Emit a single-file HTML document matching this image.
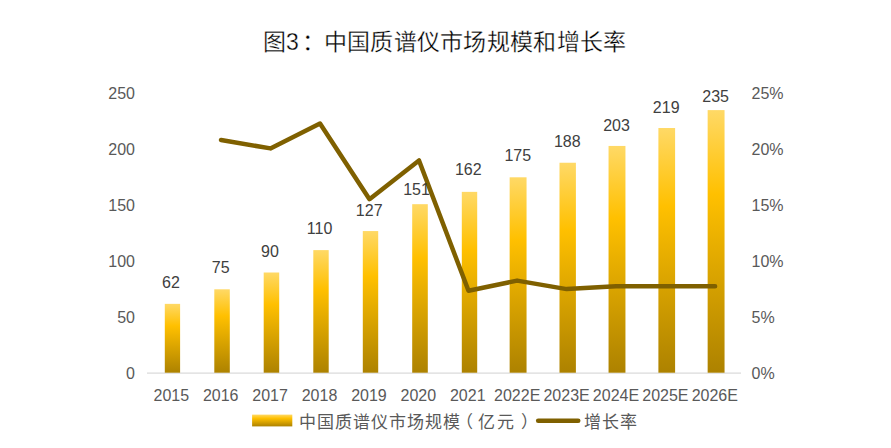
<!DOCTYPE html>
<html lang="zh-CN"><head><meta charset="utf-8"><style>
html,body{margin:0;padding:0;background:#fff;}
body{width:891px;height:448px;overflow:hidden;font-family:"Liberation Sans",sans-serif;}
svg{display:block;}
</style></head><body>
<svg width="891" height="448" viewBox="0 0 891 448" font-family="Liberation Sans, sans-serif">
<defs>
<linearGradient id="bg" x1="0" y1="0" x2="0" y2="1">
<stop offset="0" stop-color="#FFD966"/>
<stop offset="0.32" stop-color="#FFC000"/>
<stop offset="1" stop-color="#AD8200"/>
</linearGradient>
</defs>
<rect width="891" height="448" fill="#fff"/>
<text x="262.80" y="50" font-size="23" fill="#000" stroke="#fff" stroke-width="0.3">图</text><text x="286.00" y="50" font-size="23" fill="#000" stroke="#fff" stroke-width="0.3">3</text><text x="301.50" y="50" font-size="23" fill="#000" stroke="#fff" stroke-width="0.3">：</text>
<text x="323.60" y="50" font-size="23" fill="#000" stroke="#fff" stroke-width="0.3">中</text><text x="346.90" y="50" font-size="23" fill="#000" stroke="#fff" stroke-width="0.3">国</text><text x="370.20" y="50" font-size="23" fill="#000" stroke="#fff" stroke-width="0.3">质</text><text x="393.50" y="50" font-size="23" fill="#000" stroke="#fff" stroke-width="0.3">谱</text><text x="416.80" y="50" font-size="23" fill="#000" stroke="#fff" stroke-width="0.3">仪</text><text x="440.10" y="50" font-size="23" fill="#000" stroke="#fff" stroke-width="0.3">市</text><text x="463.40" y="50" font-size="23" fill="#000" stroke="#fff" stroke-width="0.3">场</text><text x="486.70" y="50" font-size="23" fill="#000" stroke="#fff" stroke-width="0.3">规</text><text x="510.00" y="50" font-size="23" fill="#000" stroke="#fff" stroke-width="0.3">模</text><text x="533.30" y="50" font-size="23" fill="#000" stroke="#fff" stroke-width="0.3">和</text><text x="556.60" y="50" font-size="23" fill="#000" stroke="#fff" stroke-width="0.3">增</text><text x="579.90" y="50" font-size="23" fill="#000" stroke="#fff" stroke-width="0.3">长</text><text x="603.20" y="50" font-size="23" fill="#000" stroke="#fff" stroke-width="0.3">率</text>
<text x="135" y="378.50" font-size="16" fill="#595959" text-anchor="end">0</text>
<text x="135" y="322.50" font-size="16" fill="#595959" text-anchor="end">50</text>
<text x="135" y="266.50" font-size="16" fill="#595959" text-anchor="end">100</text>
<text x="135" y="210.50" font-size="16" fill="#595959" text-anchor="end">150</text>
<text x="135" y="154.50" font-size="16" fill="#595959" text-anchor="end">200</text>
<text x="135" y="98.50" font-size="16" fill="#595959" text-anchor="end">250</text>
<text x="751.5" y="378.50" font-size="16" fill="#595959">0%</text>
<text x="751.5" y="322.50" font-size="16" fill="#595959">5%</text>
<text x="751.5" y="266.50" font-size="16" fill="#595959">10%</text>
<text x="751.5" y="210.50" font-size="16" fill="#595959">15%</text>
<text x="751.5" y="154.50" font-size="16" fill="#595959">20%</text>
<text x="751.5" y="98.50" font-size="16" fill="#595959">25%</text>
<rect x="147" y="372.5" width="594" height="1.2" fill="#d9d9d9"/>
<rect x="164.80" y="303.86" width="15.3" height="68.84" fill="url(#bg)"/>
<rect x="214.30" y="289.30" width="15.5" height="83.40" fill="url(#bg)"/>
<rect x="263.70" y="272.50" width="15.5" height="100.20" fill="url(#bg)"/>
<rect x="313.30" y="250.10" width="15.4" height="122.60" fill="url(#bg)"/>
<rect x="362.80" y="231.06" width="15.4" height="141.64" fill="url(#bg)"/>
<rect x="412.20" y="204.18" width="15.6" height="168.52" fill="url(#bg)"/>
<rect x="461.80" y="191.86" width="15.4" height="180.84" fill="url(#bg)"/>
<rect x="509.65" y="177.30" width="16.9" height="195.40" fill="url(#bg)"/>
<rect x="559.50" y="162.74" width="16.4" height="209.96" fill="url(#bg)"/>
<rect x="608.55" y="145.94" width="16.9" height="226.76" fill="url(#bg)"/>
<rect x="658.40" y="128.02" width="16.7" height="244.68" fill="url(#bg)"/>
<rect x="707.65" y="110.10" width="16.9" height="262.60" fill="url(#bg)"/>
<polyline points="221.05,140.00 270.45,148.40 320.00,123.50 369.50,199.20 419.00,160.50 468.50,290.80 517.10,280.60 566.70,289.10 616.00,286.30 665.75,286.30 715.10,286.30" fill="none" stroke="#7F6000" stroke-width="4.5" stroke-linejoin="round" stroke-linecap="round"/>
<text x="170.90" y="287.70" font-size="16" fill="#404040" text-anchor="middle">62</text>
<text x="220.75" y="272.60" font-size="16" fill="#404040" text-anchor="middle">75</text>
<text x="269.90" y="256.60" font-size="16" fill="#404040" text-anchor="middle">90</text>
<text x="319.55" y="234.20" font-size="16" fill="#404040" text-anchor="middle">110</text>
<text x="369.20" y="215.80" font-size="16" fill="#404040" text-anchor="middle">127</text>
<text x="416.55" y="194.70" font-size="16" fill="#404040" text-anchor="middle">151</text>
<text x="468.30" y="175.40" font-size="16" fill="#404040" text-anchor="middle">162</text>
<text x="517.75" y="160.80" font-size="16" fill="#404040" text-anchor="middle">175</text>
<text x="567.30" y="147.40" font-size="16" fill="#404040" text-anchor="middle">188</text>
<text x="616.50" y="131.20" font-size="16" fill="#404040" text-anchor="middle">203</text>
<text x="666.20" y="112.80" font-size="16" fill="#404040" text-anchor="middle">219</text>
<text x="715.60" y="102.30" font-size="16" fill="#404040" text-anchor="middle">235</text>
<text x="171.30" y="401" font-size="16" fill="#595959" text-anchor="middle">2015</text>
<text x="220.71" y="401" font-size="16" fill="#595959" text-anchor="middle">2016</text>
<text x="270.12" y="401" font-size="16" fill="#595959" text-anchor="middle">2017</text>
<text x="319.53" y="401" font-size="16" fill="#595959" text-anchor="middle">2018</text>
<text x="368.94" y="401" font-size="16" fill="#595959" text-anchor="middle">2019</text>
<text x="418.35" y="401" font-size="16" fill="#595959" text-anchor="middle">2020</text>
<text x="467.76" y="401" font-size="16" fill="#595959" text-anchor="middle">2021</text>
<text x="517.17" y="401" font-size="16" fill="#595959" text-anchor="middle">2022E</text>
<text x="566.58" y="401" font-size="16" fill="#595959" text-anchor="middle">2023E</text>
<text x="615.99" y="401" font-size="16" fill="#595959" text-anchor="middle">2024E</text>
<text x="665.40" y="401" font-size="16" fill="#595959" text-anchor="middle">2025E</text>
<text x="714.81" y="401" font-size="16" fill="#595959" text-anchor="middle">2026E</text>
<rect x="252.1" y="414.6" width="40.2" height="11.8" fill="url(#bg)"/>
<text x="298.50" y="428" font-size="17" fill="#595959">中</text><text x="316.50" y="428" font-size="17" fill="#595959">国</text><text x="334.50" y="428" font-size="17" fill="#595959">质</text><text x="352.50" y="428" font-size="17" fill="#595959">谱</text><text x="370.50" y="428" font-size="17" fill="#595959">仪</text><text x="388.50" y="428" font-size="17" fill="#595959">市</text><text x="406.50" y="428" font-size="17" fill="#595959">场</text><text x="424.50" y="428" font-size="17" fill="#595959">规</text><text x="442.50" y="428" font-size="17" fill="#595959">模</text>
<text x="455.50" y="428" font-size="17" fill="#595959">（</text><text x="478.20" y="428" font-size="17" fill="#595959">亿</text><text x="497.20" y="428" font-size="17" fill="#595959">元</text><text x="520.70" y="428" font-size="17" fill="#595959">）</text>
<line x1="538.2" y1="420.8" x2="578.2" y2="420.8" stroke="#7F6000" stroke-width="4.6" stroke-linecap="round"/>
<text x="583.50" y="428" font-size="17" fill="#595959">增</text><text x="601.50" y="428" font-size="17" fill="#595959">长</text><text x="620.20" y="428" font-size="17" fill="#595959">率</text>
</svg>
</body></html>
